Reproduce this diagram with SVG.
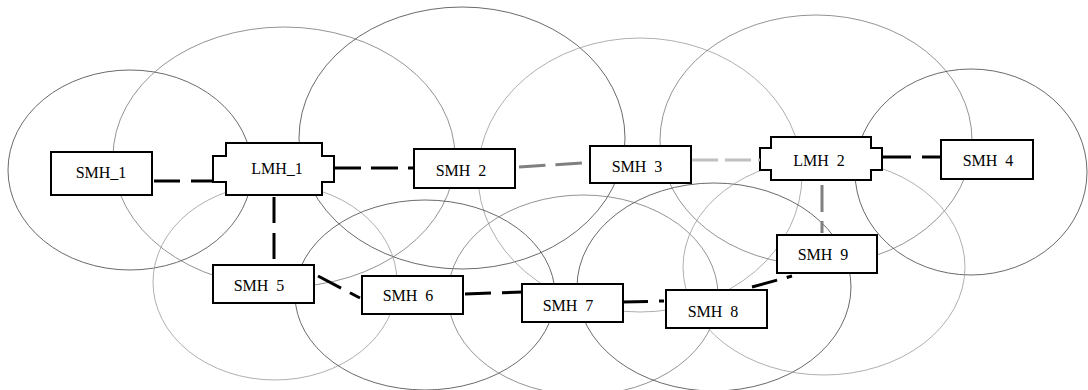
<svg xmlns="http://www.w3.org/2000/svg" width="1088" height="390" viewBox="0 0 1088 390">
<style>
.cov{fill:none;stroke-width:0.8}
.dk{stroke:#444}
.md{stroke:#777}
.lt{stroke:#9a9a9a}
.box{fill:#fff;stroke:#000;stroke-width:2}
.lbl{font-family:"Liberation Serif","Times New Roman",serif;font-size:16px;fill:#000;text-anchor:middle;word-spacing:4px}
.cn{fill:none;stroke-width:3}
.k{stroke:#000}
.g{stroke:#808080}
.lg{stroke:#c0c0c0}
</style>
<rect width="1088" height="390" fill="#fff"/>
<g id="coverage">
<ellipse class="cov dk" cx="130" cy="170" rx="122" ry="100"/>
<ellipse class="cov md" cx="284" cy="157" rx="171" ry="130"/>
<ellipse class="cov dk" cx="462" cy="138" rx="163" ry="131"/>
<ellipse class="cov lt" cx="640" cy="175" rx="162" ry="137"/>
<ellipse class="cov md" cx="816" cy="140" rx="156" ry="125"/>
<ellipse class="cov dk" cx="971" cy="172" rx="116" ry="103"/>
<ellipse class="cov lt" cx="275" cy="282" rx="122" ry="98"/>
<ellipse class="cov dk" cx="425" cy="295" rx="130" ry="95"/>
<ellipse class="cov md" cx="583" cy="295" rx="135" ry="100"/>
<ellipse class="cov dk" cx="714" cy="287" rx="137" ry="104"/>
<ellipse class="cov lt" cx="824" cy="267" rx="141" ry="108"/>
</g>
<g id="smh1"><rect class="box" x="51" y="152" width="101" height="43"/><text class="lbl" x="101" y="178">SMH_1</text></g>
<g id="lmh1"><polygon class="box" points="226,143 322,143 322,156 334,156 334,182 322,182 322,195 226,195 226,182 213,182 213,156 226,156"/><text class="lbl" x="277" y="174">LMH_1</text></g>
<g id="smh2"><rect class="box" x="414" y="149" width="101" height="39"/><text class="lbl" x="461" y="176">SMH 2</text></g>
<g id="smh3"><rect class="box" x="590" y="146" width="101" height="37"/><text class="lbl" x="637" y="172">SMH 3</text></g>
<g id="lmh2"><polygon class="box" points="771,137 871,137 871,148 882,148 882,170 871,170 871,180 771,180 771,170 760,170 760,148 771,148"/><text class="lbl" x="819" y="166">LMH 2</text></g>
<g id="smh4"><rect class="box" x="941" y="140" width="92" height="39"/><text class="lbl" x="988" y="166">SMH 4</text></g>
<g id="smh5"><rect class="box" x="213" y="265" width="101" height="38"/><text class="lbl" x="259" y="291">SMH 5</text></g>
<g id="smh6"><rect class="box" x="362" y="276" width="101" height="38"/><text class="lbl" x="408" y="301">SMH 6</text></g>
<g id="smh7"><rect class="box" x="522" y="284" width="101" height="38"/><text class="lbl" x="568" y="311">SMH 7</text></g>
<g id="smh8"><rect class="box" x="666" y="290" width="101" height="38"/><text class="lbl" x="713" y="317">SMH 8</text></g>
<g id="smh9"><rect class="box" x="777" y="235" width="100" height="38"/><text class="lbl" x="823" y="260">SMH 9</text></g>
<g id="connectors">
<path class="cn k" d="M154,181 H213" stroke-dasharray="26 11"/>
<path class="cn k" d="M334,168 H414" stroke-dasharray="27 10"/>
<path class="cn g" d="M519,167 L582,163" stroke-dasharray="26.5 10"/>
<path class="cn lg" d="M692,160 H760" stroke-dasharray="26 7"/>
<path class="cn k" d="M883,157 H941" stroke-dasharray="28 11"/>
<path class="cn k" d="M274,197 V260" stroke-dasharray="26 10"/>
<path class="cn k" d="M318,276 L360,298" stroke-dasharray="26 10"/>
<path class="cn k" d="M465,294 L523,292" stroke-dasharray="26 11"/>
<path class="cn k" d="M623,302 L664,301" stroke-dasharray="25 11"/>
<path class="cn k" d="M752,287 L792,276" stroke-dasharray="26 10"/>
<path class="cn g" d="M822,185 V233" stroke-dasharray="27 9"/>
</g>
</svg>
